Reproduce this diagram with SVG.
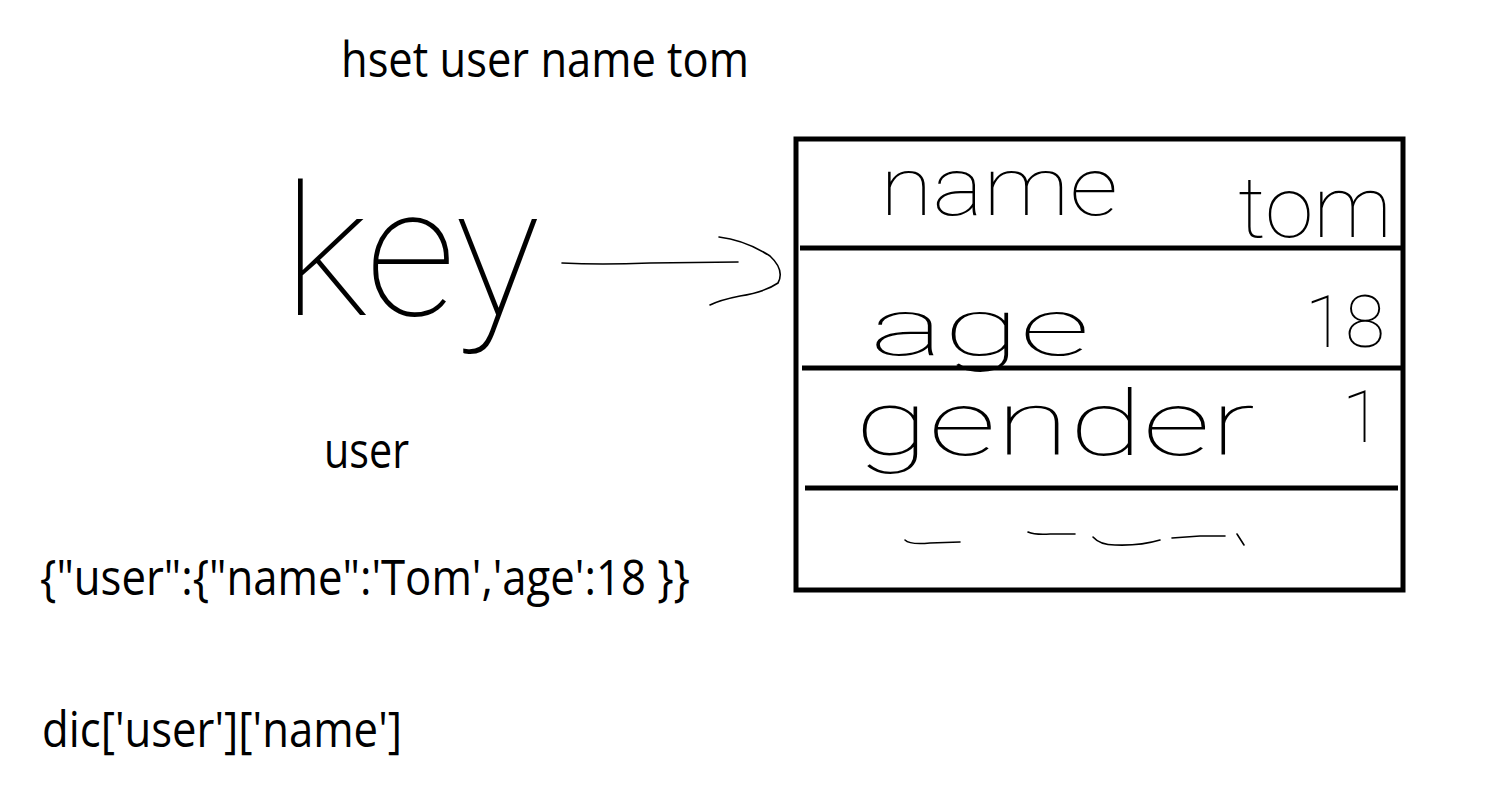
<svg xmlns="http://www.w3.org/2000/svg" width="1491" height="799" viewBox="0 0 1491 799">
  <style>
    .print { font-family: "Open Sans", "Liberation Sans", sans-serif; font-size: 50px; fill: #000; }
    .hand { font-family: Roboto, "Liberation Sans", sans-serif; font-weight: 100; fill: #000; }
    .stroke { fill: none; stroke: #000; stroke-width: 1.6; stroke-linecap: round; stroke-linejoin: round; }
    .frame { fill: none; stroke: #000; stroke-width: 5; }
    .rule { stroke: #000; stroke-width: 5; }
  </style>
  <rect width="1491" height="799" fill="#fff"/>

  <g id="command">
    <text class="print" x="341" y="77" textLength="408" lengthAdjust="spacingAndGlyphs">hset user name tom</text>
  </g>

  <g id="key-label">
    <text class="hand" x="283" y="315" font-size="182" textLength="257" lengthAdjust="spacingAndGlyphs">key</text>
  </g>

  <g id="connectors">
    <path class="stroke" d="M562,263 Q600,265 650,263 L738,262"/>
    <path class="stroke" d="M719,237 Q745,240 770,256 Q785,270 778,283 Q765,292 740,296 Q720,300 710,305"/>
  </g>

  <g id="hash-table">
    <rect class="frame" x="796" y="139" width="607" height="451"/>
    <line class="rule" x1="800" y1="248" x2="1401" y2="248"/>
    <line class="rule" x1="802" y1="368" x2="1401" y2="368"/>
    <line class="rule" x1="805" y1="488" x2="1398" y2="488"/>
  </g>

  <g id="row-name">
    <text class="hand" x="880" y="215" font-size="82" textLength="238" lengthAdjust="spacingAndGlyphs">name</text>
    <text class="hand" x="1238" y="237" font-size="85" textLength="154" lengthAdjust="spacingAndGlyphs">tom</text>
  </g>

  <g id="row-age">
    <text class="hand" x="870" y="355" font-size="80" textLength="220" lengthAdjust="spacingAndGlyphs">age</text>
    <text class="hand" x="1305" y="347" font-size="73" textLength="80" lengthAdjust="spacingAndGlyphs">18</text>
  </g>

  <g id="row-gender">
    <text class="hand" x="855" y="455" font-size="90" textLength="400" lengthAdjust="spacingAndGlyphs">gender</text>
    <text class="hand" x="1342" y="442" font-size="73">1</text>
  </g>

  <g id="row-more">
    <path class="stroke" d="M905,540 Q910,545 930,543 L960,542"/>
    <path class="stroke" d="M1028,532 Q1035,535 1050,534 L1075,534"/>
    <path class="stroke" d="M1093,537 Q1100,545 1115,545 Q1140,546 1160,540"/>
    <path class="stroke" d="M1172,538 L1200,536 L1225,536"/>
    <path class="stroke" d="M1237,534 L1244,545"/>
  </g>

  <g id="user-label">
    <text class="print" x="324" y="468" textLength="85" lengthAdjust="spacingAndGlyphs">user</text>
  </g>

  <g id="dict-literal">
    <text class="print" x="40" y="595" textLength="650" lengthAdjust="spacingAndGlyphs">{"user":{"name":'Tom','age':18 }}</text>
  </g>

  <g id="dict-access">
    <text class="print" x="42" y="747" textLength="360" lengthAdjust="spacingAndGlyphs">dic['user']['name']</text>
  </g>
</svg>
